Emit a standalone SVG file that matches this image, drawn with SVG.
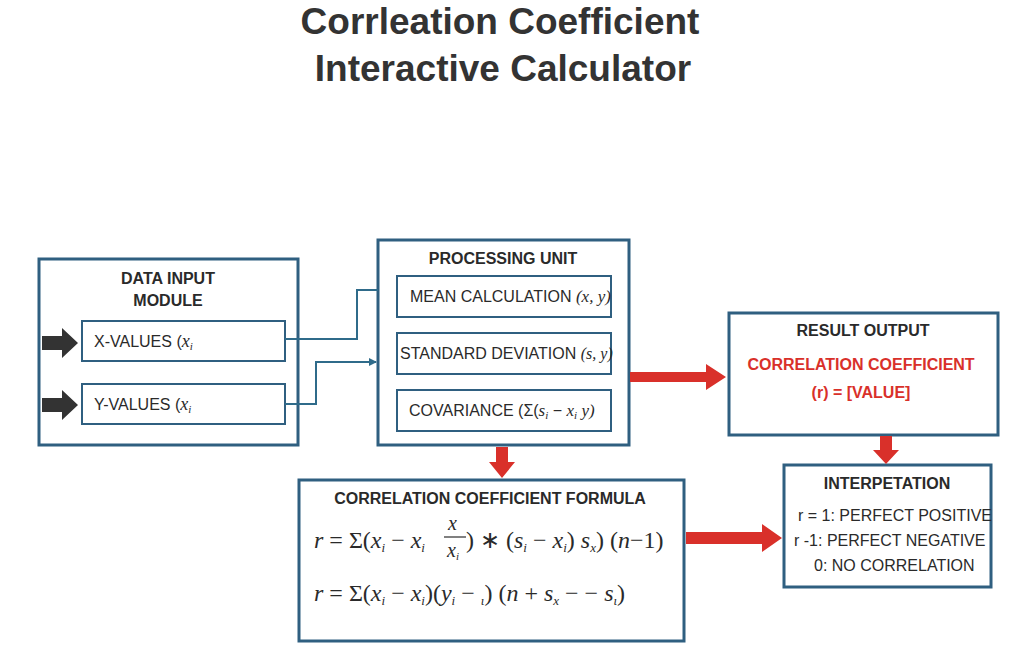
<svg xmlns="http://www.w3.org/2000/svg" width="1024" height="645" viewBox="0 0 1024 645">
<defs>
<style>
.box{fill:#fff;stroke:#2f5f80;stroke-width:3}
.inner{fill:#fff;stroke:#2f5f80;stroke-width:2}
.t{font-family:"Liberation Sans",Arial,sans-serif;fill:#2a2a2a;font-size:16px}
.h{font-family:"Liberation Sans",Arial,sans-serif;fill:#2a2a2a;font-size:16px;font-weight:bold}
.m{font-family:"Liberation Serif","Times New Roman",serif;font-style:italic;fill:#2a2a2a}
.red{fill:#d9302a}
.line{fill:none;stroke:#2f6b8a;stroke-width:2}
</style>
<marker id="ab" markerWidth="8" markerHeight="8" refX="7" refY="4" orient="auto" markerUnits="userSpaceOnUse"><path d="M0,0 L8,4 L0,8 z" fill="#2f6b8a"/></marker>
</defs>
<rect width="1024" height="645" fill="#fff"/>
<text x="500" y="34" text-anchor="middle" font-family="Liberation Sans,Arial,sans-serif" font-weight="bold" font-size="37" fill="#333">Corrleation Coefficient</text>
<text x="503" y="81" text-anchor="middle" font-family="Liberation Sans,Arial,sans-serif" font-weight="bold" font-size="37" fill="#333">Interactive Calculator</text>

<g id="data-input">
<rect class="box" x="39" y="259" width="259" height="186"/>
<text class="h" x="168" y="284" text-anchor="middle">DATA INPUT</text>
<text class="h" x="168" y="306" text-anchor="middle">MODULE</text>
</g>
<g id="x-values">
<rect class="inner" x="82" y="321" width="203" height="40"/>
<text class="t" x="94" y="347">X-VALUES (<tspan class="m" font-size="18">x</tspan><tspan class="m" font-size="11" dy="3">i</tspan></text>
</g>
<g id="y-values">
<rect class="inner" x="82" y="384" width="203" height="40"/>
<text class="t" x="94" y="410">Y-VALUES (<tspan class="m" font-size="18">x</tspan><tspan class="m" font-size="11" dy="3">i</tspan></text>
</g>

<g id="processing">
<rect class="box" x="378" y="240" width="251" height="205"/>
<text class="h" x="503" y="264" text-anchor="middle">PROCESSING UNIT</text>
</g>
<g id="mean">
<rect class="inner" x="397" y="276" width="214" height="41"/>
<text class="t" x="410" y="302">MEAN CALCULATION <tspan class="m" font-size="17">(x, y)</tspan></text>
</g>
<g id="stddev">
<rect class="inner" x="397" y="333" width="214" height="41"/>
<text class="t" x="400" y="359" font-size="15">STANDARD DEVIATION <tspan class="m" font-size="16">(s, y)</tspan></text>
</g>
<g id="covariance">
<rect class="inner" x="397" y="390" width="214" height="41"/>
<text class="t" x="409" y="416">COVARIANCE (Σ(<tspan class="m" font-size="17">s</tspan><tspan class="m" font-size="11" dy="3">i</tspan><tspan dy="-3"> − </tspan><tspan class="m" font-size="17">x</tspan><tspan class="m" font-size="11" dy="3">i</tspan><tspan class="m" font-size="17" dy="-3"> y)</tspan></text>
</g>

<g id="result">
<rect class="box" x="729" y="313" width="269" height="122"/>
<text class="h" x="863" y="336" text-anchor="middle">RESULT OUTPUT</text>
<text class="h" x="861" y="370" text-anchor="middle" font-size="18" style="fill:#d9302a">CORRELATION COEFFICIENT</text>
<text class="h" x="861" y="398" text-anchor="middle" font-size="18" style="fill:#d9302a">(r) = [VALUE]</text>
</g>

<g id="interpretation">
<rect class="box" x="784" y="465" width="207" height="122"/>
<text class="h" x="887" y="489" text-anchor="middle">INTERPETATION</text>
<text class="t" x="798" y="521" font-size="14">r = 1: PERFECT POSITIVE</text>
<text class="t" x="794" y="546" font-size="14">r -1: PERFECT NEGATIVE</text>
<text class="t" x="814" y="571" font-size="14">0: NO CORRELATION</text>
</g>

<g id="formula">
<rect class="box" x="299" y="480" width="385" height="161"/>
<text class="h" x="490" y="504" text-anchor="middle">CORRELATION COEFFICIENT FORMULA</text>
<text class="m" x="314" y="548" font-size="24">r <tspan font-style="normal">= Σ(</tspan>x<tspan font-size="13" dy="4">i</tspan><tspan dy="-4" font-style="normal"> − </tspan>x<tspan font-size="13" dy="4">i</tspan></text>
<text class="m" x="448" y="530" font-size="20">x</text>
<line x1="444" y1="537" x2="466" y2="537" stroke="#2a2a2a" stroke-width="1.2"/>
<text class="m" x="447" y="557" font-size="20">x<tspan font-size="11" dy="3">i</tspan></text>
<text class="m" x="466" y="548" font-size="24"><tspan font-style="normal">) ∗ (</tspan>s<tspan font-size="13" dy="4">i</tspan><tspan dy="-4" font-style="normal"> − </tspan>x<tspan font-size="13" dy="4">i</tspan><tspan dy="-4" font-style="normal">) </tspan>s<tspan font-size="13" dy="4">x</tspan><tspan dy="-4" font-style="normal">) (</tspan>n<tspan font-style="normal">−1)</tspan></text>
<text class="m" x="314" y="601" font-size="24">r <tspan font-style="normal">= Σ(</tspan>x<tspan font-size="13" dy="4">i</tspan><tspan dy="-4" font-style="normal"> − </tspan>x<tspan font-size="13" dy="4">i</tspan><tspan dy="-4" font-style="normal">)(</tspan>y<tspan font-size="13" dy="4">i</tspan><tspan dy="-4" font-style="normal"> − </tspan><tspan font-size="13" dy="4">ι</tspan><tspan dy="-4" font-style="normal">) (</tspan>n<tspan font-style="normal"> + </tspan>s<tspan font-size="13" dy="4">x</tspan><tspan dy="-4" font-style="normal"> − − </tspan>s<tspan font-size="13" dy="4">ι</tspan><tspan dy="-4" font-style="normal">)</tspan></text>
</g>

<g id="connectors">
<path class="line" d="M285,339 H357 V290 H378"/>
<path class="line" d="M285,404 H316 V362 H376" marker-end="url(#ab)"/>
<path d="M42,336 H62 V328 L78,343 L62,358 V350 H42 z" fill="#333"/>
<path d="M42,398 H62 V390 L78,405 L62,420 V412 H42 z" fill="#333"/>
<path class="red" d="M630,372 H706 V364 L726,377 L706,390 V382 H630 z"/>
<path class="red" d="M496,447 H508 V462 H515 L502,478 L489,462 H496 z"/>
<path class="red" d="M880,436 H892 V450 H899 L886,464 L873,450 H880 z"/>
<path class="red" d="M686,532 H762 V524 L782,538 L762,552 V544 H686 z"/>
</g>
</svg>
